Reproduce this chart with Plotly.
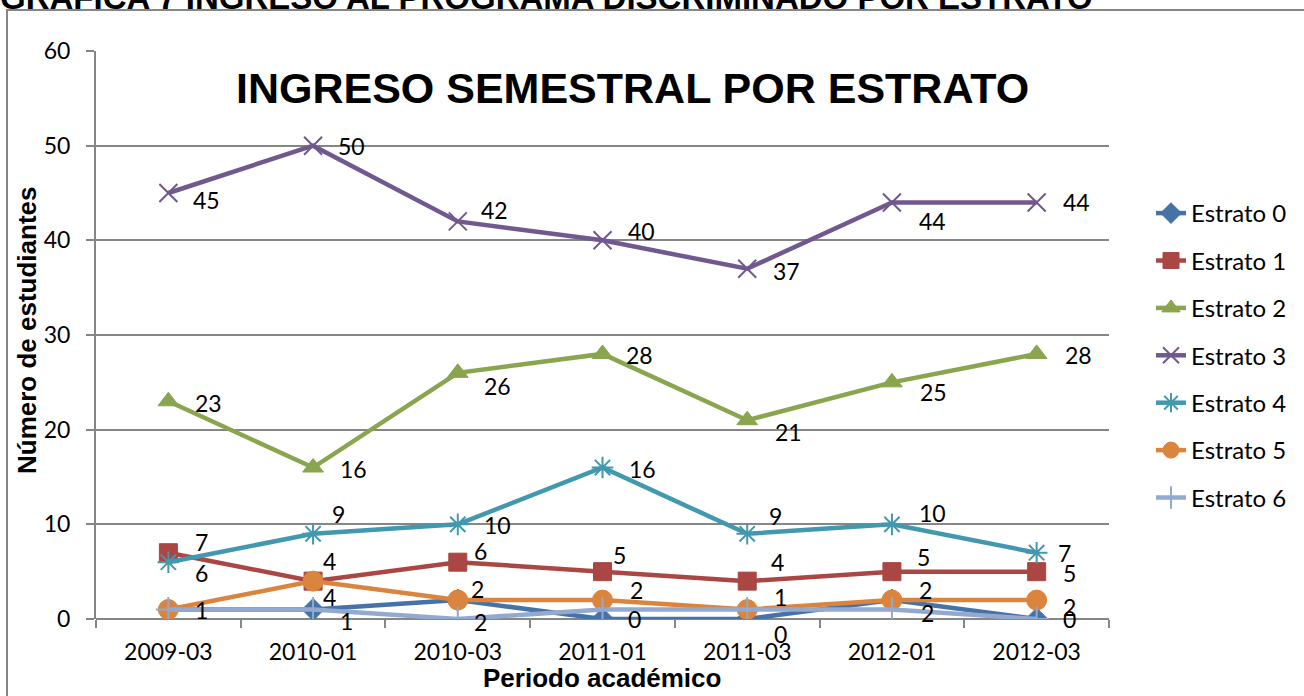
import plotly.graph_objects as go

# ---------------- data ----------------
periodos = ["2009-03", "2010-01", "2010-03", "2011-01", "2011-03", "2012-01", "2012-03"]
estrato_0 = [1, 1, 2, 0, 0, 2, 0]
estrato_1 = [7, 4, 6, 5, 4, 5, 5]
estrato_2 = [23, 16, 26, 28, 21, 25, 28]
estrato_3 = [45, 50, 42, 40, 37, 44, 44]
estrato_4 = [6, 9, 10, 16, 9, 10, 7]
estrato_5 = [1, 4, 2, 2, 1, 2, 2]
estrato_6 = [1, 1, 0, 1, 1, 1, 0]
nombres = ["Estrato 0", "Estrato 1", "Estrato 2", "Estrato 3", "Estrato 4", "Estrato 5", "Estrato 6"]
y_ticks = [0, 10, 20, 30, 40, 50, 60]

titulo_grafico = "INGRESO SEMESTRAL POR ESTRATO"
titulo_doc = "GRAFICA 7 INGRESO AL PROGRAMA DISCRIMINADO POR ESTRATO"
titulo_x = "Periodo académico"
titulo_y = "Número de estudiantes"

series = [estrato_0, estrato_1, estrato_2, estrato_3, estrato_4, estrato_5, estrato_6]

# ---------------- styles ----------------
colores = ["#4572A7", "#AA4643", "#89A54E", "#71588F", "#4198AF", "#DB843D", "#93A9CF"]
simbolos = ["diamond", "square", "triangle-up", "x-thin-open", "asterisk-open", "circle", "cross-thin-open"]
tamanos = [17, 18, 18, 18, 18, 20, 18]
open_sym = [False, False, False, True, True, False, True]

# label offsets in px (dx to left edge, dy downward); None = no label
offs = [
    [(27, 0), (27, 11), (16, 22), (25, 0), (27, 15), (29, 13), (26, 0)],
    [(27, -11), (10, -20), (16, -11), (10, -17), (24, -19), (25, -15), (26, 1)],
    [(27, 2), (27, 1), (26, 13), (23, 1), (28, 12), (28, 10), (28, 1)],
    [(25, 7), (25, 0), (23, -11), (25, -9), (26, 2), (27, 19), (26, 0)],
    [(27, 11), (19, -20), (26, 1), (26, 1), (22, -18), (27, -11), (21, 0)],
    [None, (10, 16), (13, -11), (27, -10), (27, -13), (27, -10), (26, 7)],
    [None] * 7,
]

GRID = "#868686"
LBL_FONT = "Lato, Carlito, Calibri, sans-serif"
BOLD_FONT = "Liberation Sans, Arial, sans-serif"

W, H = 1304, 696
L, R, T, B = 96, 195, 51, 77
PW, PH = W - L - R, H - T - B


def px_x(px):
    return (px - L) / PW


def px_y(py):
    return (H - B - py) / PH


fig = go.Figure()
for i, (nm, ys) in enumerate(zip(nombres, series)):
    mk = dict(symbol=simbolos[i], size=tamanos[i], color=colores[i])
    if open_sym[i]:
        mk["line"] = dict(color=colores[i], width=2)
    else:
        mk["line"] = dict(color=colores[i], width=1)
    fig.add_trace(go.Scatter(
        x=periodos, y=ys, name=nm, mode="lines+markers",
        line=dict(color=colores[i], width=4.5),
        marker=mk, legendgroup=nm,
    ))

annotations = []
for i, ys in enumerate(series):
    for j, v in enumerate(ys):
        o = offs[i][j]
        if o is None:
            continue
        annotations.append(dict(
            x=periodos[j], y=v, xref="x", yref="y", text=str(v), showarrow=False,
            xanchor="left", yanchor="middle", xshift=o[0] - 2, yshift=-o[1],
            font=dict(family=LBL_FONT, size=23, color="#000000"),
        ))

annotations += [
    dict(x=px_x(632), y=px_y(88), xref="paper", yref="paper", text="<b>" + titulo_grafico + "</b>",
         showarrow=False, xanchor="center", yanchor="middle",
         font=dict(family=BOLD_FONT, size=43, color="#000000")),
    dict(x=px_x(602), y=px_y(678), xref="paper", yref="paper", text="<b>" + titulo_x + "</b>",
         showarrow=False, xanchor="center", yanchor="middle",
         font=dict(family=BOLD_FONT, size=26, color="#000000")),
    dict(x=px_x(27), y=px_y(330), xref="paper", yref="paper", text="<b>" + titulo_y + "</b>",
         showarrow=False, xanchor="center", yanchor="middle", textangle=-90,
         font=dict(family=BOLD_FONT, size=26, color="#000000")),
    dict(x=px_x(-2), y=px_y(-3), xref="paper", yref="paper", text="<b>" + titulo_doc + "</b>",
         showarrow=False, xanchor="left", yanchor="middle",
         font=dict(family=BOLD_FONT, size=33, color="#000000")),
]

shapes = [
    dict(type="rect", xref="paper", yref="paper",
         x0=px_x(7), y0=px_y(720), x1=px_x(1330), y1=px_y(10),
         line=dict(color=GRID, width=2), fillcolor="rgba(0,0,0,0)", layer="below"),
]

fig.update_layout(
    width=W, height=H,
    margin=dict(l=L, r=R, t=T, b=B, autoexpand=False),
    paper_bgcolor="white", plot_bgcolor="white",
    showlegend=True,
    legend=dict(
        x=px_x(1151), y=px_y(191), xanchor="left", yanchor="top",
        font=dict(family=LBL_FONT, size=24, color="#000000"),
        tracegroupgap=13.2, bgcolor="rgba(0,0,0,0)", itemwidth=30,
    ),
    annotations=annotations,
    shapes=shapes,
    xaxis=dict(
        type="category", categoryorder="array", categoryarray=periodos,
        range=[-0.5, 6.5], showgrid=False, zeroline=False,
        showline=False, ticks="outside", ticklen=8, tickwidth=2, tickcolor=GRID,
        tickson="boundaries", ticklabelstandoff=17,
        tickfont=dict(family=LBL_FONT, size=23, color="#000000"),
    ),
    yaxis=dict(
        range=[0, 60], tickvals=y_ticks, showgrid=True, gridcolor=GRID, gridwidth=2,
        zeroline=True, zerolinecolor=GRID, zerolinewidth=2,
        showline=True, linecolor=GRID, linewidth=2,
        ticks="outside", ticklen=8, tickwidth=2, tickcolor=GRID, ticklabelstandoff=11,
        tickfont=dict(family=LBL_FONT, size=23, color="#000000"),
    ),
)

fig.write_html(
    "out.html",
    config={"displayModeBar": False},
    post_script="document.body.style.margin='0';document.body.style.overflow='hidden';",
)
